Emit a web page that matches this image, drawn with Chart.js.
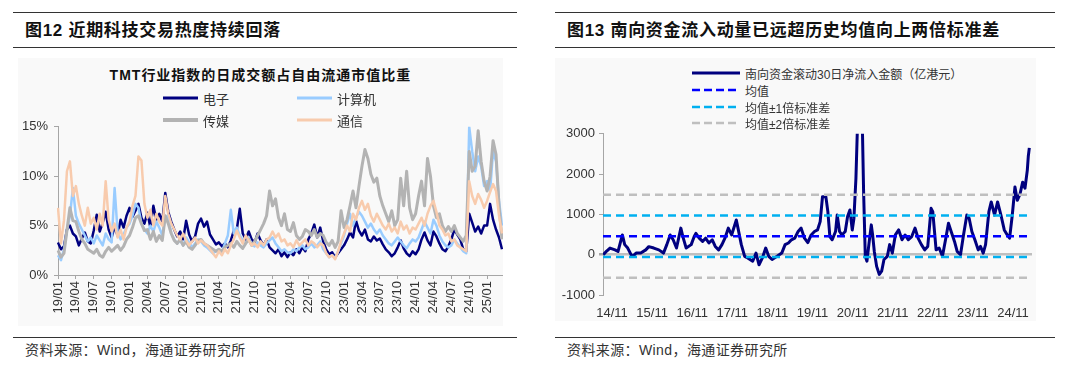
<!DOCTYPE html>
<html>
<head>
<meta charset="utf-8">
<script src="https://cdn.jsdelivr.net/npm/chart.js@4.4.1/dist/chart.umd.min.js"></script>
<style>
  body { margin: 0; width: 1080px; height: 375px; background: #fff; position: relative; overflow: hidden;
         font-family: "Liberation Sans", "Noto Sans CJK SC", sans-serif; color: #333; }
  .rule { position: absolute; height: 0; border-top: 1.5px solid #333; }
  .title { position: absolute; font-weight: bold; font-size: 17px; line-height: 20px; color: #111; white-space: nowrap; letter-spacing: 0.7px; }
  .src { position: absolute; font-size: 14px; line-height: 18px; color: #333; letter-spacing: 0.4px; white-space: nowrap; }
  .box { position: absolute; background: #f9f9f9; }
  .lg { position: absolute; display: flex; align-items: center; white-space: nowrap; color: #333; }
  .lg svg { margin-right: 5px; }
  canvas { position: absolute; }
</style>
</head>
<body>
<div class="rule" style="left:13px;top:12px;width:504px"></div>
<div class="rule" style="left:13px;top:47px;width:504px"></div>
<div class="rule" style="left:13px;top:337px;width:504px"></div>
<div class="rule" style="left:555px;top:12px;width:500px"></div>
<div class="rule" style="left:555px;top:47px;width:500px"></div>
<div class="rule" style="left:555px;top:337px;width:500px"></div>

<div class="title" style="left:25px;top:21px">图12 近期科技交易热度持续回落</div>
<div class="title" style="left:567px;top:21px">图13 南向资金流入动量已远超历史均值向上两倍标准差</div>

<div class="box" style="left:18px;top:58px;width:485px;height:268px"></div>
<div class="box" style="left:555px;top:58px;width:481px;height:263px"></div>

<div style="position:absolute;left:18px;width:485px;top:64px;text-align:center;font-weight:bold;font-size:14px;letter-spacing:1px;color:#111">TMT行业指数的日成交额占自由流通市值比重</div>

<canvas id="left" width="485" height="215" style="left:18px;top:113px"></canvas>
<canvas id="right" width="480" height="200" style="left:555px;top:122px"></canvas>

<div class="src" style="left:25px;top:341px">资料来源：Wind，海通证券研究所</div>
<div class="src" style="left:567px;top:341px">资料来源：Wind，海通证券研究所</div>

<script>
const FONT = '"Liberation Sans", "Noto Sans CJK SC", sans-serif';

// ---- left chart: TMT turnover / free float cap (%), semi-monthly, 2019/01 - 2025/03
const quarterTicks = ['19/01','19/04','19/07','19/10','20/01','20/04','20/07','20/10',
  '21/01','21/04','21/07','21/10','22/01','22/04','22/07','22/10',
  '23/01','23/04','23/07','23/10','24/01','24/04','24/07','24/10','25/01'];
const leftNames = ['电子', '计算机', '传媒', '通信'];

const elec = [
  3.3,2.6,2.9,4.6,5.0,4.2, 3.9,3.0,3.7,4.3,3.4,3.2, 4.5,6.1,4.4,5.3,6.4,4.6, 3.8,4.9,4.0,5.6,4.8,6.0,
  6.8,5.9,6.5,7.2,5.8,5.2, 6.3,4.8,7.0,5.6,6.2,5.4, 8.3,6.4,5.4,4.6,3.9,4.4, 3.6,5.5,4.1,3.4,3.9,5.2,
  5.7,4.9,5.4,4.1,3.6,3.1, 3.3,2.9,3.2,2.8,3.5,4.5, 4.6,6.7,4.2,3.6,4.4,3.6, 3.3,4.2,3.5,3.0,3.6,2.8,
  2.5,2.2,2.6,1.9,2.3,1.8, 2.3,2.0,2.6,2.2,2.8,2.4, 3.6,4.2,5.1,3.8,4.8,3.4, 2.6,2.1,2.3,1.8,2.2,2.6,
  3.0,3.6,4.3,3.8,5.5,4.5, 4.0,4.6,3.6,3.4,3.9,3.5, 3.7,3.1,2.6,2.3,1.9,2.2, 2.8,3.5,2.7,2.2,1.9,2.4,
  2.1,2.6,3.6,4.3,3.5,3.0, 4.4,3.9,3.2,2.6,2.4,2.9, 3.6,4.6,4.1,3.6,2.6,2.4, 6.2,5.3,4.4,4.9,4.2,5.0,
  5.0,7.2,5.6,4.6,3.8,2.6];
const comp = [
  2.0,1.5,2.6,4.5,6.0,8.8, 6.0,5.2,4.6,4.0,3.4,3.8, 3.2,4.0,3.5,3.0,4.2,3.6, 3.3,8.8,4.4,3.6,4.1,4.8,
  5.2,6.0,7.2,6.8,5.2,4.6, 4.2,5.0,4.4,5.4,4.8,4.0, 5.8,6.0,4.2,3.6,3.2,3.5, 3.0,3.8,3.3,2.8,3.2,3.6,
  3.4,3.0,2.8,2.5,2.2,2.4, 2.6,2.3,3.2,4.0,6.6,4.2, 4.8,4.0,3.5,3.2,3.8,3.1, 2.9,3.3,3.0,2.8,3.2,3.5,
  3.8,3.2,2.8,2.4,2.6,2.3, 2.2,2.6,2.4,2.8,3.0,2.6, 2.8,3.2,2.8,3.0,3.4,2.6, 2.2,1.8,2.0,1.7,2.4,3.2,
  4.0,5.2,6.2,5.0,5.8,6.4, 6.0,5.4,4.8,5.2,4.6,4.2, 4.6,4.0,3.6,3.2,3.0,3.4, 3.8,3.4,3.0,2.7,3.2,3.6,
  3.4,3.8,4.6,5.4,4.8,4.2, 5.6,5.0,4.0,3.4,3.0,2.8, 3.0,3.6,3.2,2.8,2.4,2.2, 15.0,12.5,10.5,12.0,11.0,9.0,
  9.5,8.5,12.5,11.5,7.5,5.0];
const media = [
  2.5,1.8,2.2,4.5,6.8,5.5, 5.4,4.4,3.6,3.2,2.6,2.4, 2.2,2.6,2.0,1.8,2.4,2.8, 2.4,2.7,3.0,2.5,2.9,3.6,
  4.0,4.8,5.8,6.0,5.2,4.5, 4.6,3.6,4.4,3.4,4.0,3.5, 6.0,5.2,4.2,3.5,3.2,3.6, 3.0,3.4,2.8,2.6,3.0,3.5,
  3.6,3.2,3.0,2.8,2.6,2.4, 2.6,2.4,2.8,3.0,3.2,2.8, 3.4,3.0,2.7,3.2,3.6,3.0, 3.4,4.0,4.6,5.2,6.0,8.5,
  7.0,7.7,5.8,5.0,6.2,4.6, 4.4,5.3,4.0,3.6,3.9,4.6, 4.4,4.0,4.6,3.8,4.2,4.0, 3.3,3.0,3.5,2.8,3.4,6.5,
  4.8,5.6,7.0,8.5,6.8,9.0, 11.0,12.7,11.8,10.2,9.4,9.8, 8.0,7.0,6.2,5.4,6.5,5.0, 5.6,9.8,7.0,10.5,6.8,5.6,
  6.2,8.0,9.5,7.0,11.8,10.0, 7.0,5.8,6.2,5.0,4.4,4.9, 4.4,5.0,4.2,3.8,3.4,4.0, 12.5,10.5,11.0,14.6,11.5,9.5,
  8.5,10.0,13.6,12.2,7.0,3.6];
const telecom = [
  6.8,3.2,5.5,10.5,11.5,8.0, 9.0,7.2,6.0,5.0,6.8,5.2, 5.8,4.6,6.2,5.0,9.5,5.6, 4.4,5.2,3.8,4.6,3.6,4.8,
  5.4,7.0,8.0,12.0,11.6,7.2, 5.8,6.6,5.0,6.2,5.4,5.0, 8.0,6.2,5.2,4.6,4.0,3.6, 4.2,3.5,3.0,3.4,3.8,3.2,
  3.5,3.2,3.0,2.6,2.2,1.8, 2.4,2.0,2.6,2.2,3.0,3.6, 4.5,3.8,3.2,4.0,3.5,3.0, 3.2,2.8,3.4,3.0,3.6,3.8,
  4.4,3.8,4.2,3.4,3.6,3.0, 3.2,2.8,3.5,3.0,3.3,3.6, 3.0,3.4,3.2,2.8,3.2,3.0, 2.2,1.8,2.0,1.6,2.4,3.4,
  4.2,5.0,4.4,6.2,5.6,6.8, 7.5,6.6,7.2,6.0,5.4,6.2, 5.6,5.0,4.6,5.2,4.4,4.8, 4.2,5.4,4.6,5.0,4.2,4.8,
  4.6,5.2,5.8,5.0,6.2,7.0, 7.5,6.4,5.0,4.6,4.0,4.2, 3.4,3.6,3.0,2.8,2.6,2.4, 9.5,8.0,7.2,8.2,7.6,6.8,
  7.5,8.4,9.2,8.5,6.0,4.2];

// ---- right chart: southbound rolling 30d net inflow (亿港元), months since 2014/11
const flowTicks = ['14/11','15/11','16/11','17/11','18/11','19/11','20/11','21/11','22/11','23/11','24/11'];
const flowMonth = [
  -2.6,-1.6,-0.6,0.9,1.8,3.1,3.8,4.7,5.7,6.2,7.2,8.6,10.1,11.0,12.5,14.0,15.4,16.4,17.4,18.3,
  19.3,20.6,21.2,22.2,23.7,24.6,25.1,26.1,27.1,28.0,29.0,30.0,30.9,31.9,32.9,33.8,34.8,35.8,37.2,37.7,
  38.7,39.7,40.6,42.1,43.1,44.0,45.0,46.0,46.9,47.9,49.4,50.8,51.8,52.8,53.7,54.7,55.7,56.6,57.6,58.6,
  59.6,60.6,61.5,62.3,63.0,64.0,64.6,65.2,65.9,66.9,67.4,68.1,68.8,69.8,70.5,71.2,71.9,72.4,73.0,73.5,
  74.9,75.3,75.8,76.3,77.1,77.6,78.0,78.5,79.2,80.0,80.7,81.4,82.4,83.1,83.9,84.8,85.8,86.8,87.7,88.7,
  89.7,90.7,91.6,92.6,93.6,94.5,95.5,96.0,97.0,97.9,98.9,99.9,100.7,101.5,102.5,103.3,104.3,105.2,106.2,106.9,
  107.7,108.6,109.6,110.3,111.1,111.8,112.8,113.5,114.5,115.4,116.4,117.4,118.3,119.0,119.8,120.6,121.3,122.1,122.9,123.6,
  124.3,124.6,124.9];
const flowValue = [
  0,90,165,120,80,490,250,165,0,-40,40,40,120,200,165,120,40,250,490,370,
  165,660,450,165,250,450,530,410,330,410,290,370,205,120,250,410,660,490,860,660,
  250,-40,-80,-160,40,-250,-80,165,-40,-120,-40,40,250,290,370,410,575,660,410,300,
  490,575,615,820,1440,1440,1070,450,370,575,985,575,490,575,945,1110,615,900,1890,3300,
  3300,1560,-40,-160,410,740,490,80,-290,-490,-410,-120,-40,250,40,490,615,370,490,370,
  450,660,410,250,120,205,1150,1070,120,165,-40,410,780,575,330,80,0,490,985,900,
  575,370,120,205,40,250,1070,1310,985,1310,985,615,490,410,985,1680,1350,1500,1800,1650,
  2100,2450,2650];
const flowMean = 455, flowPlus1 = 970, flowMinus1 = -60, flowPlus2 = 1485, flowMinus2 = -575;
const flowXMin = -2.7, flowXMax = 125.7;

const tickFont = { family: FONT, size: 13 };
const axisGray = '#a6a6a6';

// ---------------- left chart
const leftLabels = quarterTicks.flatMap(t => [t, '', '', '', '', '']);
const leftColors = ['#000080', '#99CCFF', '#B3B3B3', '#F8CBAD'];
const leftWidths = [2.5, 2.5, 3, 2.5];
const leftSeries = [elec, comp, media, telecom];

new Chart(document.getElementById('left'), {
  type: 'line',
  data: {
    labels: leftLabels,
    datasets: leftSeries.map((d, i) => ({
      label: leftNames[i], data: d, borderColor: leftColors[i], borderWidth: leftWidths[i],
      order: 4 - i
    }))
  },
  options: {
    responsive: false, animation: false,
    layout: { padding: { top: 12, right: 1, left: 0, bottom: 0 } },
    plugins: { legend: { display: false }, tooltip: { enabled: false } },
    elements: { point: { radius: 0 }, line: { tension: 0, borderJoinStyle: 'round' } },
    scales: {
      x: {
        type: 'category', offset: false,
        grid: { drawOnChartArea: false, tickLength: 4, color: axisGray },
        border: { color: axisGray },
        ticks: { autoSkip: false, minRotation: 90, maxRotation: 90, color: '#333', font: tickFont, padding: 2 },
        afterBuildTicks: s => { s.ticks = s.ticks.filter(t => leftLabels[t.value] !== ''); },
        afterFit: s => { s.height = 53; s.paddingLeft = 0; s.paddingRight = 0; }
      },
      y: {
        min: 0, max: 15,
        grid: { drawOnChartArea: false, tickLength: 4, color: axisGray },
        border: { color: axisGray },
        ticks: { stepSize: 5, callback: v => v + '%', color: '#333', font: tickFont, padding: 6 },
        afterFit: s => { s.width = 40; }
      }
    }
  }
});

// ---------------- right chart
const bandLine = (label, v, color) => ({
  label, data: [{ x: flowXMin, y: v }, { x: flowXMax, y: v }],
  borderColor: color, borderWidth: 2.5, borderDash: [8, 5], order: 1
});

new Chart(document.getElementById('right'), {
  type: 'line',
  data: {
    datasets: [
      { label: '南向资金滚动30日净流入金额（亿港元）', data: flowMonth.map((m, i) => ({ x: m, y: flowValue[i] })),
        borderColor: '#00007F', borderWidth: 3, order: 5 },
      bandLine('均值', flowMean, '#0000FF'),
      bandLine('均值±1倍标准差', flowPlus1, '#00B0F0'),
      bandLine('均值±1倍标准差', flowMinus1, '#00B0F0'),
      bandLine('均值±2倍标准差', flowPlus2, '#BFBFBF'),
      bandLine('均值±2倍标准差', flowMinus2, '#BFBFBF')
    ]
  },
  options: {
    responsive: false, animation: false,
    layout: { padding: { top: 11, right: 3, left: 0, bottom: 0 } },
    plugins: { legend: { display: false }, tooltip: { enabled: false } },
    elements: { point: { radius: 0 }, line: { tension: 0, borderJoinStyle: 'round' } },
    scales: {
      x: {
        type: 'linear', min: flowXMin, max: flowXMax,
        grid: { display: false }, border: { display: false },
        ticks: { color: '#333', font: tickFont, padding: 3, maxRotation: 0,
                 callback: (v, i) => flowTicks[i] },
        afterBuildTicks: s => { s.ticks = flowTicks.map((t, i) => ({ value: i * 12 })); },
        afterFit: s => { s.height = 27; s.paddingLeft = 0; s.paddingRight = 0; }
      },
      y: {
        min: -1000, max: 3000,
        grid: { color: c => (c.tick && c.tick.value === 0 ? '#BFBFBF' : 'transparent'),
                lineWidth: c => (c.tick && c.tick.value === 0 ? 2.5 : 1),
                tickColor: axisGray, tickLength: 4 },
        border: { color: axisGray },
        ticks: { stepSize: 1000, color: '#333', font: tickFont, padding: 4, callback: v => String(v) },
        afterFit: s => { s.width = 48; }
      }
    }
  }
});

// ---------------- html legends
function legendItem(x, y, text, color, width, dash, len, size) {
  const el = document.createElement('div');
  el.className = 'lg';
  el.style.left = x + 'px';
  el.style.top = (y - 9) + 'px';
  el.style.height = '18px';
  el.style.fontSize = size + 'px';
  el.innerHTML = '<svg width="' + len + '" height="8"><line x1="0" y1="4" x2="' + len + '" y2="4" stroke="' + color +
    '" stroke-width="' + width + '"' + (dash ? ' stroke-dasharray="' + dash + '"' : '') + '/></svg><span>' + text + '</span>';
  document.body.appendChild(el);
}
const leftLegendPos = [[163, 98], [297, 98], [163, 120], [297, 120]];
leftNames.forEach((n, i) => legendItem(leftLegendPos[i][0], leftLegendPos[i][1], n, leftColors[i], i === 2 ? 4 : 3, null, 35, 13));

legendItem(692, 73, '南向资金滚动30日净流入金额（亿港元）', '#00007F', 3, null, 48, 12);
legendItem(692, 90, '均值', '#0000FF', 2.5, '8 4', 48, 12);
legendItem(692, 107, '均值±1倍标准差', '#00B0F0', 2.5, '8 4', 48, 12);
legendItem(692, 123, '均值±2倍标准差', '#BFBFBF', 2.5, '8 4', 48, 12);
</script>
</body>
</html>
